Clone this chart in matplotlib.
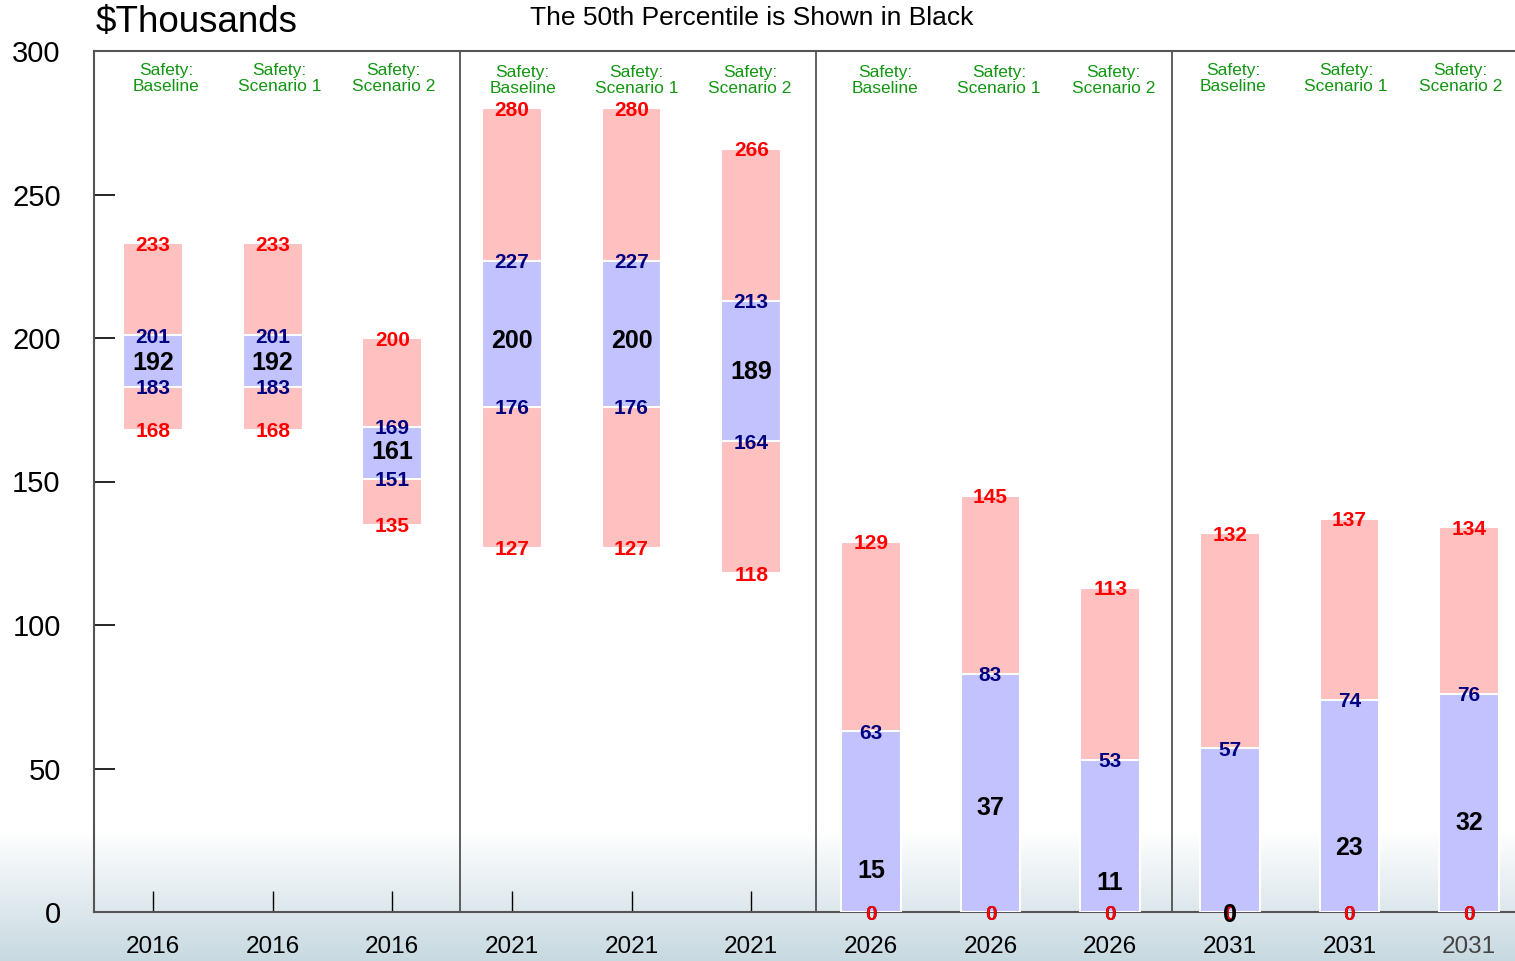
import numpy as np
import matplotlib
matplotlib.use("Agg")
import matplotlib.pyplot as plt
from matplotlib import font_manager

plt.rcParams['font.family'] = ['Liberation Sans', 'DejaVu Sans']

years = ["2016", "2016", "2016", "2021", "2021", "2021",
         "2026", "2026", "2026", "2031", "2031", "2031"]
scenarios = ["Safety:\nBaseline", "Safety:\nScenario 1", "Safety:\nScenario 2"] * 4
p90 = [233, 233, 200, 280, 280, 266, 129, 145, 113, 132, 137, 134]
p75 = [201, 201, 169, 227, 227, 213, 63, 83, 53, 57, 74, 76]
p50 = [192, 192, 161, 200, 200, 189, 15, 37, 11, 0, 23, 32]
p25 = [183, 183, 151, 176, 176, 164, 0, 0, 0, 0, 0, 0]
p10 = [168, 168, 135, 127, 127, 118, 0, 0, 0, 0, 0, 0]
yticks = [0, 50, 100, 150, 200, 250, 300]

# layout: scenario caption offsets (in bar units) and heights
cap_dx = [0.11, 0.06, 0.01, 0.09, 0.04, -0.01, 0.12, 0.07, 0.03, 0.03, -0.03, -0.07]
cap_y = [290.5] * 3 + [289.8] * 6 + [290.5] * 3

W, H = 1515, 961
fig = plt.figure(figsize=(W / 100, H / 100), dpi=100)

# background gradient
bg = fig.add_axes([0, 0, 1, 1], zorder=-10)
grad = np.ones((H, 1, 3))
top_c = np.array([1.0, 1.0, 1.0])
bot_c = np.array([0.78, 0.85, 0.88])
for r in range(H):
    if r > 830:
        t = (r - 830) / (H - 830)
        grad[r, 0] = top_c * (1 - t) + bot_c * t
bg.imshow(grad, aspect='auto', extent=[0, 1, 0, 1])
bg.axis('off')

ax = fig.add_axes([94 / W, 1 - 912 / H, (W - 94) / W, (912 - 51) / H])
ax.set_facecolor('none')
x = np.arange(len(years))
w = 0.5

ax.bar(x, np.array(p90) - np.array(p10), bottom=p10, width=w,
       color='#ffc0c0', edgecolor='white', linewidth=1.5, zorder=2)
ax.bar(x, np.array(p75) - np.array(p25), bottom=p25, width=w,
       color='#c2c2ff', edgecolor='white', linewidth=1.5, zorder=3)

for i in range(len(x)):
    ax.text(x[i], p75[i], str(p75[i]), ha='center', va='center_baseline', color='#000080',
            fontsize=15, fontweight='bold', zorder=5)
    ax.text(x[i], p25[i], str(p25[i]), ha='center', va='center_baseline', color='#000080',
            fontsize=15, fontweight='bold', zorder=5)
    ax.text(x[i], p90[i], str(p90[i]), ha='center', va='center_baseline', color='#ff0000',
            fontsize=15, fontweight='bold', zorder=6)
    ax.text(x[i], p10[i], str(p10[i]), ha='center', va='center_baseline', color='#ff0000',
            fontsize=15, fontweight='bold', zorder=6)
    ax.text(x[i], p50[i], str(p50[i]), ha='center', va='center_baseline', color='black',
            fontsize=18, fontweight='bold', zorder=7)
    ax.text(x[i] + cap_dx[i], cap_y[i], scenarios[i], ha='center', va='center', color='#129612',
            fontsize=12.5, linespacing=1.1, zorder=5)

for sx in [2.565, 5.54, 8.52]:
    ax.axvline(sx, color='#444444', linewidth=1.2, zorder=1)

ax.set_xlim(-0.493, 11.384)
ax.set_ylim(0, 300)
ax.set_yticks(yticks)
ax.set_yticklabels([str(v) for v in yticks], fontsize=21)
ax.set_xticks(x)
ax.set_xticklabels(years, fontsize=17.5)
ax.get_xticklabels()[-1].set_color('#444444')
ax.tick_params(axis='y', direction='in', length=15, width=1.2, pad=24)
ax.tick_params(axis='x', direction='in', length=15, width=1.0, pad=17)
for side in ['left', 'bottom', 'top']:
    ax.spines[side].set_color('#555555')
    ax.spines[side].set_linewidth(1.5)
ax.spines['right'].set_visible(False)

fig.text(96 / W, 1 - 22 / H, "$Thousands", fontsize=26.5, ha='left', va='center')

names = {f.name for f in font_manager.fontManager.ttflist}
if 'Liberation Sans Narrow' in names:
    tfam, tsize = ['Liberation Sans Narrow', 'Liberation Sans'], 22
else:
    tfam, tsize = ['Liberation Sans', 'DejaVu Sans'], 19
fig.text(752 / W, 1 - 18 / H, "The 50th Percentile is Shown in Black", fontsize=tsize,
         family=tfam, ha='center', va='center')

fig.savefig("out.png", dpi=100)
